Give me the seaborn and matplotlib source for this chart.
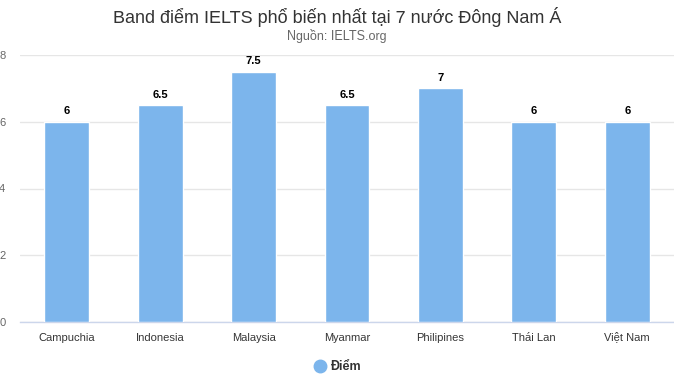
import matplotlib
matplotlib.use("Agg")
import matplotlib.pyplot as plt
import seaborn as sns
import pandas as pd
from matplotlib.lines import Line2D

countries = ["Campuchia", "Indonesia", "Malaysia", "Myanmar", "Philipines", "Thái Lan", "Việt Nam"]
scores = [6, 6.5, 7.5, 6.5, 7, 6, 6]
yticks = [0, 2, 4, 6, 8]
series_name = "Điểm"

sns.set_theme(style="white")
plt.rcParams['font.family'] = ['Liberation Sans', 'DejaVu Sans']
plt.rcParams['text.hinting'] = 'native'

df = pd.DataFrame({"country": countries, "score": scores})
fig = plt.figure(figsize=(6.74, 3.74), dpi=100)
ax = fig.add_axes([20/674, 1-322/374, 654/674, (322-55)/374])
sns.barplot(data=df, x="country", y="score", color="#7cb5ec", saturation=1, width=0.48, ax=ax, zorder=3)
ax.set_ylim(0, 8)
ax.set_xlim(-0.5, 6.5)
ax.set_yticks(yticks)
ax.set_yticklabels([str(t) for t in yticks], fontsize=8, color="#666666")
ax.tick_params(axis='y', length=0, pad=10.5)
ax.tick_params(axis='x', length=0, labelbottom=False)
xtrans = ax.get_xaxis_transform()
for i, name in enumerate(countries):
    ax.annotate(name, (i, 0), xycoords=xtrans, xytext=(0, -14), textcoords="offset points",
                ha="center", va="baseline", fontsize=8, color="#333333")
ax.grid(axis='y', color="#e6e6e6", linewidth=1, zorder=0)
for s in ["top", "right", "left"]:
    ax.spines[s].set_visible(False)
ax.spines["bottom"].set_color("#ccd6eb")
ax.spines["bottom"].set_linewidth(1)
ax.set_xlabel("")
ax.set_ylabel("")
for i, v in enumerate(scores):
    ax.annotate(f"{v:g}", (i, v), xytext=(0, 4), textcoords="offset points",
                ha="center", va="bottom", fontsize=8, fontweight="bold", color="#000000")

fig.text(0.5, 1-17/374, "Band điểm IELTS phổ biến nhất tại 7 nước Đông Nam Á", ha="center", va="center",
         fontsize=13, color="#333333")
fig.text(0.5, 1-36/374, "Nguồn: IELTS.org", ha="center", va="center", fontsize=9, color="#666666")

handle = Line2D([0], [0], marker='o', color='none', markerfacecolor="#7cb5ec", markeredgecolor="#7cb5ec", markersize=9)
fig.legend([handle], [series_name], loc="center", bbox_to_anchor=(0.5, 1-367/374), frameon=False,
           prop={"size": 9, "weight": "bold"}, handletextpad=0.3, handlelength=1.2, labelcolor="#333333")

fig.savefig("out.png", dpi=100)
